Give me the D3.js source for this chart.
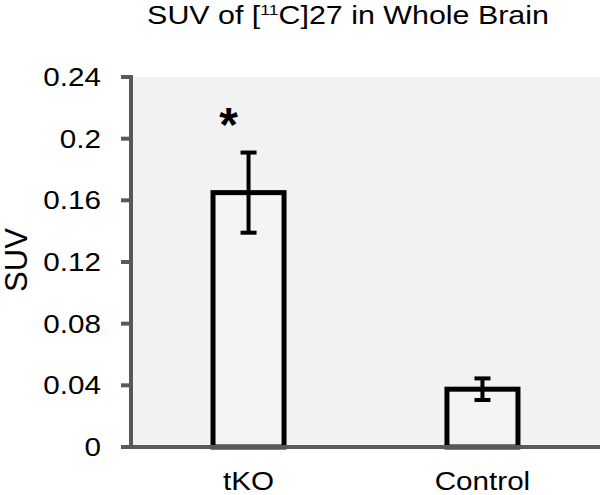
<!DOCTYPE html>
<html><head><meta charset="utf-8">
<script src="https://cdn.jsdelivr.net/npm/d3@7"></script>
<style>html,body{margin:0;padding:0;background:#fff}svg{display:block}</style>
</head><body>
<script>
const categories = ["tKO", "Control"];
const means = [0.165, 0.0375];
const errors = [0.026, 0.007];
const significance = ["*", ""];
const yTicks = [0, 0.04, 0.08, 0.12, 0.16, 0.2, 0.24];
const yTickLabels = ["0", "0.04", "0.08", "0.12", "0.16", "0.2", "0.24"];

const W = 600, H = 495;
const svg = d3.select("body").append("svg").attr("width", W).attr("height", H);
const font = "'Liberation Sans', Arial, sans-serif";
const SX = 1.14; // horizontal stretch of reference glyphs

const x0 = 131, x1 = 600, yTop = 77, yBot = 447;
const x = d3.scaleBand().domain(categories).range([x0, x1]).paddingInner(0.675).paddingOuter(0.34);
const y = d3.scaleLinear().domain([0, 0.24]).range([yBot, yTop]);

svg.append("rect").attr("x", x0).attr("y", yTop).attr("width", x1 - x0).attr("height", yBot - yTop).attr("fill", "#f2f2f2");

// title
const t = svg.append("text").attr("transform", "translate(348,24) scale(1.17,1)").attr("text-anchor", "middle")
  .attr("font-family", font).attr("font-size", 26).attr("fill", "#000");
t.append("tspan").text("SUV of [");
t.append("tspan").attr("font-size", 15).attr("dy", -9).text("11");
t.append("tspan").attr("dy", 9).text("C]27 in Whole Brain");

// bars
const bw = x.bandwidth();
svg.selectAll("rect.bar").data(categories).join("rect").attr("class", "bar")
  .attr("x", d => x(d) + 2.5).attr("width", bw - 5)
  .attr("y", (d, i) => y(means[i])).attr("height", (d, i) => yBot - y(means[i]))
  .attr("fill", "#f4f4f4").attr("stroke", "#000").attr("stroke-width", 5);

// error bars
const eb = svg.append("g").attr("stroke", "#000").attr("stroke-width", 4);
categories.forEach((c, i) => {
  const cx = x(c) + bw / 2;
  eb.append("line").attr("x1", cx).attr("x2", cx).attr("y1", y(means[i] + errors[i])).attr("y2", y(means[i] - errors[i]));
  [means[i] + errors[i], means[i] - errors[i]].forEach(v => {
    eb.append("line").attr("x1", cx - 8).attr("x2", cx + 8).attr("y1", y(v)).attr("y2", y(v));
  });
  if (significance[i]) {
    svg.append("text").attr("x", cx - 20).attr("y", y(means[i] + errors[i]) - 12)
      .attr("text-anchor", "middle").attr("font-family", font).attr("font-size", 48).attr("font-weight", "bold")
      .text(significance[i]);
  }
});

// y axis ticks and labels
const gy = svg.append("g");
gy.selectAll("line.tk").data(yTicks).join("line").attr("class", "tk")
  .attr("x1", x0 - 10).attr("x2", x0).attr("y1", d => y(d)).attr("y2", d => y(d))
  .attr("stroke", "#595959").attr("stroke-width", 4);
gy.selectAll("text.tl").data(yTicks).join("text").attr("class", "tl")
  .attr("transform", d => `translate(101,${y(d)}) scale(${SX},1)`)
  .attr("dy", "0.35em").attr("text-anchor", "end")
  .attr("font-family", font).attr("font-size", 26).attr("fill", "#000")
  .text((d, i) => yTickLabels[i]);
svg.append("line").attr("x1", x0).attr("x2", x0).attr("y1", yTop - 2).attr("y2", yBot).attr("stroke", "#595959").attr("stroke-width", 4);
svg.append("line").attr("x1", x0 - 10).attr("x2", x1).attr("y1", yBot).attr("y2", yBot).attr("stroke", "#595959").attr("stroke-width", 4);

// x labels
svg.selectAll("text.xl").data(categories).join("text").attr("class", "xl")
  .attr("transform", d => `translate(${x(d) + bw / 2},${yBot + 43}) scale(${SX},1)`)
  .attr("text-anchor", "middle").attr("font-family", font).attr("font-size", 26).attr("fill", "#000")
  .text(d => d);

// y title
svg.append("text").attr("transform", `translate(27,260) rotate(-90)`).attr("text-anchor", "middle")
  .attr("font-family", font).attr("font-size", 31).attr("fill", "#000").text("SUV");
</script>
</body></html>
